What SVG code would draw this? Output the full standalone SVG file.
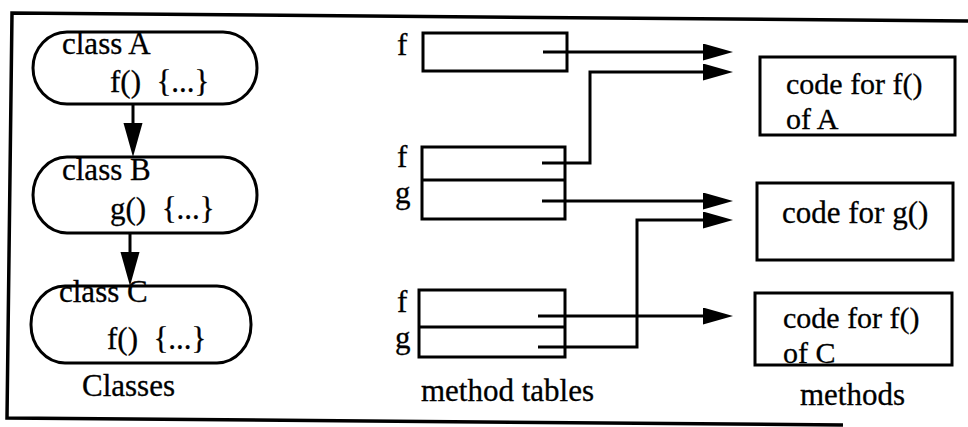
<svg xmlns="http://www.w3.org/2000/svg" width="968" height="427" viewBox="0 0 968 427">
  <style>
    text { font-family: "Liberation Serif", "Times New Roman", serif; font-size: 31px; fill: #000; stroke: #000; stroke-width: 0.3; white-space: pre; }
    text.two { font-size: 30px; }
    .cls { fill: #fff; stroke: #000; stroke-width: 3; }
    .box { fill: #fff; stroke: #000; stroke-width: 3; }
    .wire { fill: none; stroke: #000; stroke-width: 3; }
    .frame { fill: none; stroke: #000; stroke-width: 3.5; }
  </style>
  <defs>
    <marker id="ptr" markerUnits="userSpaceOnUse" markerWidth="30" markerHeight="18" refX="15" refY="8.5" orient="auto">
      <path d="M0,0 L30,8.5 L0,17 z" fill="#000"/>
    </marker>
    <marker id="inh" markerUnits="userSpaceOnUse" markerWidth="34" markerHeight="20" refX="17" refY="9.5" orient="auto">
      <path d="M0,0 L34,9.5 L0,19 z" fill="#000"/>
    </marker>
  </defs>

  <rect width="968" height="427" fill="#fff"/>

  <!-- outer frame (open on the right) -->
  <path class="frame" d="M968,21 L12,13 L7,418 L843,425"/>

  <!-- class hierarchy -->
  <g id="class-a">
    <rect class="cls" x="33" y="32" width="224" height="72" rx="34" ry="36"/>
    <text x="62" y="54">class A<tspan x="110" y="92">f()  {...}</tspan></text>
  </g>
  <g id="class-b">
    <rect class="cls" x="33" y="157" width="224" height="76" rx="34" ry="38"/>
    <text x="62" y="180">class B<tspan x="110" y="219">g()  {...}</tspan></text>
  </g>
  <g id="class-c">
    <rect class="cls" x="31" y="286" width="220" height="77" rx="34" ry="38"/>
    <text x="59" y="302">class C<tspan x="107" y="349">f()  {...}</tspan></text>
  </g>
  <g id="label-classes">
    <text x="82" y="396">Classes</text>
  </g>

  <!-- method tables -->
  <g id="table-a">
    <rect class="box" x="423" y="33" width="144" height="38"/>
    <text x="397" y="55">f</text>
  </g>
  <g id="table-b">
    <rect class="box" x="422" y="147" width="143" height="72"/>
    <line class="wire" x1="422" y1="180" x2="565" y2="180"/>
    <text x="397" y="167">f</text>
    <text x="395" y="203">g</text>
  </g>
  <g id="table-c">
    <rect class="box" x="419" y="290" width="146" height="67"/>
    <line class="wire" x1="419" y1="327" x2="565" y2="327"/>
    <text x="397" y="312">f</text>
    <text x="395" y="348">g</text>
  </g>
  <g id="label-tables">
    <text x="421" y="401">method tables</text>
  </g>

  <!-- method bodies -->
  <g id="code-f-a">
    <rect class="box" x="760" y="57" width="195" height="78"/>
    <text class="two" x="786" y="94">code for f()<tspan x="786" y="129">of A</tspan></text>
  </g>
  <g id="code-g">
    <rect class="box" x="757" y="183" width="196" height="77"/>
    <text x="782" y="223">code for g()</text>
  </g>
  <g id="code-f-c">
    <rect class="box" x="755" y="293" width="197" height="72"/>
    <text class="two" x="783" y="328">code for f()<tspan x="783" y="363">of C</tspan></text>
  </g>
  <g id="label-methods">
    <text x="800" y="405">methods</text>
  </g>

  <!-- connectors -->
  <g id="connectors">
    <line class="wire" x1="133" y1="104" x2="133" y2="140" marker-end="url(#inh)"/>
    <line class="wire" x1="130" y1="233" x2="130" y2="269" marker-end="url(#inh)"/>
    <path class="wire" d="M543,52 H718" marker-end="url(#ptr)"/>
    <path class="wire" d="M542,163 H590 V72 H718" marker-end="url(#ptr)"/>
    <path class="wire" d="M542,201 H718" marker-end="url(#ptr)"/>
    <path class="wire" d="M538,347 H637 V220 H718" marker-end="url(#ptr)"/>
    <path class="wire" d="M538,316 H718" marker-end="url(#ptr)"/>
  </g>
</svg>
